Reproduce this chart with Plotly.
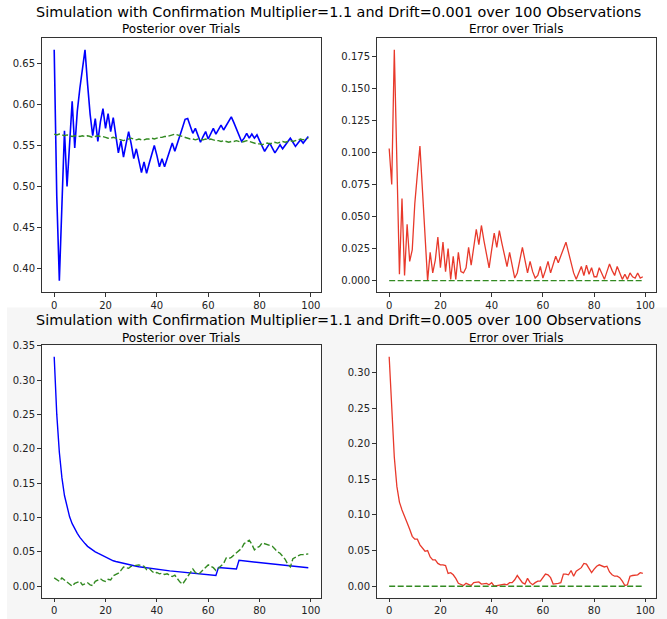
import plotly.graph_objects as go

W, H = 667, 619
trials = list(range(100))

# ---- Row 1: drift 0.001 ----
posterior_1 = [
    0.667, 0.488, 0.385, 0.475, 0.568, 0.500, 0.552, 0.604, 0.547, 0.592,
    0.620, 0.645, 0.667, 0.625, 0.588, 0.562, 0.583, 0.555, 0.579, 0.595,
    0.571, 0.589, 0.567, 0.584, 0.560, 0.541, 0.556, 0.536, 0.552, 0.567,
    0.552, 0.534, 0.546, 0.530, 0.517, 0.530, 0.516, 0.528, 0.539, 0.550,
    0.538, 0.524, 0.534, 0.524, 0.534, 0.543, 0.553, 0.543, 0.552, 0.562,
    0.572, 0.582, 0.583, 0.574, 0.565, 0.571, 0.563, 0.554, 0.561, 0.567,
    0.558, 0.564, 0.571, 0.564, 0.570, 0.575, 0.569, 0.574, 0.580, 0.585,
    0.578, 0.571, 0.563, 0.555, 0.559, 0.565, 0.559, 0.564, 0.559, 0.563,
    0.556, 0.550, 0.543, 0.548, 0.553, 0.547, 0.541, 0.546, 0.551, 0.546,
    0.550, 0.555, 0.559, 0.554, 0.549, 0.553, 0.557, 0.553, 0.557, 0.561,
]
true_1 = [
    0.564, 0.563, 0.564, 0.563, 0.562, 0.563, 0.562, 0.561, 0.562, 0.562,
    0.561, 0.562, 0.561, 0.562, 0.561, 0.560, 0.561, 0.562, 0.561, 0.561,
    0.560, 0.559, 0.559, 0.560, 0.559, 0.558, 0.557, 0.556, 0.557, 0.558,
    0.559, 0.558, 0.557, 0.558, 0.557, 0.557, 0.558, 0.558, 0.559, 0.558,
    0.559, 0.560, 0.560, 0.561, 0.561, 0.562, 0.563, 0.564, 0.563, 0.562,
    0.561, 0.560, 0.559, 0.558, 0.558, 0.557, 0.558, 0.557, 0.557, 0.558,
    0.557, 0.558, 0.557, 0.556, 0.556, 0.555, 0.556, 0.555, 0.554, 0.555,
    0.555, 0.556, 0.555, 0.554, 0.555, 0.556, 0.555, 0.554, 0.553, 0.552,
    0.552, 0.551, 0.552, 0.553, 0.552, 0.553, 0.554, 0.553, 0.554, 0.555,
    0.554, 0.555, 0.556, 0.555, 0.556, 0.557, 0.558, 0.557, 0.558, 0.559,
]
error_1 = [
    0.103, 0.075, 0.180, 0.090, 0.005, 0.064, 0.004, 0.044, 0.015, 0.024,
    0.060, 0.083, 0.105, 0.070, 0.035, 0.000, 0.022, 0.006, 0.016, 0.034,
    0.010, 0.030, 0.007, 0.025, 0.001, 0.019, 0.001, 0.022, 0.007, 0.006,
    0.010, 0.026, 0.012, 0.026, 0.040, 0.028, 0.043, 0.031, 0.021, 0.010,
    0.024, 0.037, 0.026, 0.039, 0.029, 0.020, 0.011, 0.022, 0.011, 0.002,
    0.006, 0.016, 0.026, 0.016, 0.006, 0.015, 0.007, 0.002, 0.004, 0.011,
    0.002, 0.008, 0.015, 0.006, 0.013, 0.019, 0.014, 0.019, 0.024, 0.030,
    0.022, 0.013, 0.006, 0.001, 0.006, 0.011, 0.004, 0.012, 0.005, 0.010,
    0.003, 0.003, 0.010, 0.006, 0.001, 0.007, 0.013, 0.008, 0.004, 0.011,
    0.006, 0.001, 0.005, 0.001, 0.006, 0.003, 0.002, 0.006, 0.002, 0.003,
]
error_ref_1 = [0.0] * 100

# ---- Row 2: drift 0.005 ----
posterior_2 = [
    0.334, 0.250, 0.195, 0.158, 0.132, 0.114, 0.101, 0.091, 0.083, 0.077,
    0.071, 0.066, 0.062, 0.058, 0.055, 0.052, 0.050, 0.048, 0.046, 0.044,
    0.042, 0.040, 0.039, 0.037, 0.036, 0.035, 0.034, 0.033, 0.032, 0.031,
    0.0305, 0.0298, 0.0291, 0.0284, 0.0278, 0.0272, 0.0266, 0.0260, 0.0255, 0.0250,
    0.0245, 0.0240, 0.0235, 0.0231, 0.0227, 0.0223, 0.0219, 0.0215, 0.0211, 0.0207,
    0.0203, 0.0199, 0.0196, 0.0192, 0.0189, 0.0185, 0.0182, 0.0178, 0.0175, 0.0171,
    0.0168, 0.0164, 0.0161, 0.0157, 0.0272, 0.0269, 0.0266, 0.0263, 0.0260, 0.0257,
    0.0254, 0.0251, 0.0376, 0.0372, 0.0368, 0.0364, 0.0360, 0.0356, 0.0352, 0.0348,
    0.0344, 0.0340, 0.0336, 0.0332, 0.0328, 0.0324, 0.0320, 0.0316, 0.0312, 0.0308,
    0.0304, 0.0300, 0.0296, 0.0292, 0.0288, 0.0284, 0.0280, 0.0276, 0.0272, 0.0268,
]
true_2 = [
    0.012, 0.010, 0.007, 0.012, 0.009, 0.005, 0.002, 0.000, 0.004, 0.006,
    0.007, 0.002, 0.003, 0.005, 0.002, 0.001, 0.007, 0.009, 0.011, 0.008,
    0.007, 0.010, 0.009, 0.015, 0.017, 0.019, 0.023, 0.028, 0.027, 0.026,
    0.029, 0.030, 0.031, 0.031, 0.030, 0.029, 0.024, 0.026, 0.022, 0.019,
    0.020, 0.018, 0.019, 0.017, 0.018, 0.016, 0.014, 0.016, 0.011, 0.006,
    0.003, 0.009, 0.014, 0.020, 0.025, 0.020, 0.017, 0.020, 0.024, 0.027,
    0.031, 0.029, 0.027, 0.023, 0.026, 0.030, 0.033, 0.041, 0.040, 0.042,
    0.045, 0.048, 0.051, 0.055, 0.062, 0.064, 0.067, 0.061, 0.053, 0.056,
    0.058, 0.063, 0.062, 0.061, 0.060, 0.058, 0.054, 0.050, 0.048, 0.044,
    0.039, 0.032, 0.028, 0.040, 0.042, 0.044, 0.046, 0.046, 0.047, 0.047,
]
error_2 = [
    0.322, 0.250, 0.181, 0.140, 0.118, 0.107, 0.099, 0.089, 0.080, 0.070,
    0.066, 0.066, 0.058, 0.054, 0.049, 0.050, 0.041, 0.037, 0.037, 0.032,
    0.030, 0.030, 0.029, 0.018, 0.019, 0.016, 0.011, 0.004, 0.002, 0.001,
    0.004, 0.002, 0.001, 0.005, 0.006, 0.006, 0.003, 0.003, 0.004, 0.002,
    0.005, 0.000, 0.001, 0.001, 0.002, 0.003, 0.002, 0.005, 0.005, 0.009,
    0.015, 0.010, 0.005, 0.003, 0.011, 0.005, 0.002, 0.005, 0.007, 0.007,
    0.013, 0.017, 0.016, 0.012, 0.003, 0.003, 0.004, 0.005, 0.017, 0.017,
    0.016, 0.022, 0.014, 0.021, 0.023, 0.026, 0.032, 0.031, 0.025, 0.019,
    0.024, 0.028, 0.030, 0.028, 0.027, 0.028, 0.020, 0.016, 0.014, 0.014,
    0.012, 0.007, 0.001, 0.002, 0.014, 0.015, 0.015, 0.016, 0.019, 0.018,
]
error_ref_2 = [0.0] * 100

suptitles = [
    "Simulation with Confirmation Multiplier=1.1 and Drift=0.001 over 100 Observations",
    "Simulation with Confirmation Multiplier=1.1 and Drift=0.005 over 100 Observations",
]
subtitles = ["Posterior over Trials", "Error over Trials"]
x_ticks = [0, 20, 40, 60, 80, 100]

BLUE = "#0000ff"
RED = "#e8392b"
GREEN = "#338a22"
FONT = "DejaVu Sans"

# pixel layout of axes boxes: (left, right, top, bottom)
boxes = {
    "TL": (41.5, 321.0, 33.5, 289.5),
    "TR": (376.5, 655.5, 33.5, 289.5),
    "BL": (41.5, 321.0, 343.0, 597.5),
    "BR": (376.5, 655.5, 343.0, 597.5),
}


def px_dom(b):
    l, r, t, bt = b
    return [l / W, r / W], [1 - bt / H, 1 - t / H]


def auto_range(*series):
    lo = min(min(s) for s in series)
    hi = max(max(s) for s in series)
    pad = (hi - lo) * 0.05
    return [lo - pad, hi + pad]


fig = go.Figure()

DASH = "6px,2.5px"
panels = [
    ("TL", "x", "y", [(posterior_1, BLUE, 1.6, "solid"), (true_1, GREEN, 1.4, DASH)],
     [0.40, 0.45, 0.50, 0.55, 0.60, 0.65], ".2f"),
    ("TR", "x2", "y2", [(error_1, RED, 1.3, "solid"), (error_ref_1, GREEN, 1.4, DASH)],
     [0.0, 0.025, 0.05, 0.075, 0.10, 0.125, 0.15, 0.175], ".3f"),
    ("BL", "x3", "y3", [(posterior_2, BLUE, 1.4, "solid"), (true_2, GREEN, 1.4, DASH)],
     [0.0, 0.05, 0.10, 0.15, 0.20, 0.25, 0.30, 0.35], ".2f"),
    ("BR", "x4", "y4", [(error_2, RED, 1.3, "solid"), (error_ref_2, GREEN, 1.4, DASH)],
     [0.0, 0.05, 0.10, 0.15, 0.20, 0.25, 0.30], ".2f"),
]

axis_common = dict(
    showline=True, mirror=True, linecolor="#333333", linewidth=1,
    ticks="outside", ticklen=3.5, tickwidth=0.8, tickcolor="#333333",
    showgrid=False, zeroline=False,
    tickfont=dict(family=FONT, size=10, color="#222222"),
)

layout_axes = {}
for key, xa, ya, lines, yt, fmt in panels:
    for ys, color, width, dash in lines:
        fig.add_trace(go.Scatter(
            x=trials, y=ys, xaxis=xa, yaxis=ya, mode="lines",
            line=dict(color=color, width=width, dash=dash), showlegend=False,
        ))
    xd, yd = px_dom(boxes[key])
    xname = "xaxis" + xa[1:]
    yname = "yaxis" + ya[1:]
    layout_axes[xname] = dict(axis_common, domain=xd, anchor=ya, range=[-4.95, 103.95],
                              tickvals=x_ticks)
    layout_axes[yname] = dict(axis_common, domain=yd, anchor=xa,
                              range=auto_range(*[l[0] for l in lines]),
                              tickvals=yt, tickformat=fmt)

annotations = []
for row, (sup, ysup, ysub) in enumerate([(suptitles[0], 7.5, 24.0), (suptitles[1], 317.5, 335.5)]):
    annotations.append(dict(text=sup, x=338 / W, y=1 - ysup / H, xref="paper", yref="paper",
                            showarrow=False, xanchor="center", yanchor="middle", borderpad=0,
                            font=dict(family=FONT, size=14.4, color="#000000")))
    for col, sub in enumerate(subtitles):
        b = boxes[["TL", "TR"][col] if row == 0 else ["BL", "BR"][col]]
        annotations.append(dict(text=sub, x=(b[0] + b[1]) / 2 / W, y=1 - ysub / H,
                                xref="paper", yref="paper", showarrow=False, borderpad=0,
                                xanchor="center", yanchor="middle",
                                font=dict(family=FONT, size=12.0, color="#000000")))

shapes = [dict(type="rect", xref="paper", yref="paper", x0=7 / W, x1=1, y0=0, y1=1 - 305 / H,
               fillcolor="#f6f6f6", line=dict(width=0), layer="below")]
for xa, ya in [("x3", "y3"), ("x4", "y4")]:
    shapes.append(dict(type="rect", xref=xa + " domain", yref=ya + " domain",
                       x0=0, x1=1, y0=0, y1=1, fillcolor="white",
                       line=dict(width=0), layer="below"))

fig.update_layout(
    width=W, height=H, margin=dict(l=0, r=0, t=0, b=0),
    paper_bgcolor="white", plot_bgcolor="white",
    annotations=annotations,
    shapes=shapes,
    **layout_axes,
)

fig.write_html("out.html")
